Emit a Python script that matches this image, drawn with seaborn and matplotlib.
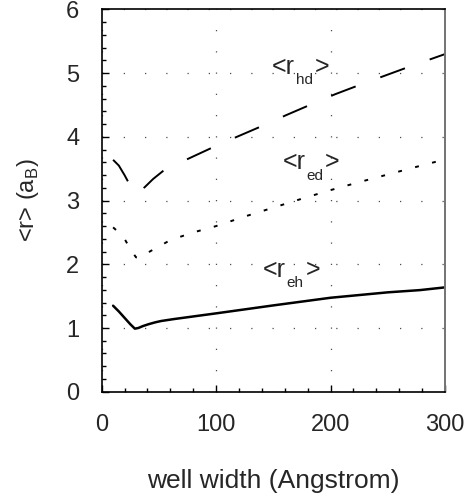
import numpy as np
import pandas as pd
import matplotlib
matplotlib.use("Agg")
import matplotlib.pyplot as plt
import seaborn as sns
from matplotlib.ticker import MultipleLocator

# well width (Angstrom) and mean distances <r> (a_B)
width_eh = [10, 15, 20, 25, 29, 32, 36, 41, 47, 52, 63, 100, 150, 200, 250, 278, 300]
r_eh = [1.35, 1.26, 1.16, 1.06, 0.99, 1.00, 1.03, 1.06, 1.09, 1.11, 1.14,
        1.23, 1.355, 1.475, 1.56, 1.595, 1.638]

width_ed = [10, 15, 20, 25, 30, 32, 40, 50, 60, 80, 100, 125, 150, 175, 200,
            225, 250, 275, 300]
r_ed = [2.58, 2.50, 2.40, 2.24, 2.11, 2.10, 2.18, 2.28, 2.38, 2.50, 2.60,
        2.75, 2.89, 3.03, 3.165, 3.29, 3.41, 3.53, 3.647]

width_hd = [10, 15, 20, 23, 27, 30, 33, 37, 45, 54, 65, 76, 97, 118, 140,
            161, 183, 204, 226, 248, 270, 300]
r_hd = [3.64, 3.55, 3.40, 3.30, 3.17, 3.10, 3.10, 3.20, 3.34, 3.47, 3.57,
        3.66, 3.835, 4.00, 4.17, 4.34, 4.51, 4.67, 4.82, 4.965, 5.11, 5.30]

sub_labels = ["hd", "ed", "eh"]

sns.set_style("white")
plt.rcParams["font.family"] = ["Liberation Sans", "DejaVu Sans"]
plt.rcParams["mathtext.fontset"] = "custom"
plt.rcParams["mathtext.rm"] = "Liberation Sans"

fig = plt.figure(figsize=(4.75, 4.99), dpi=100)
ax = fig.add_axes([0.214, 0.215, 0.723, 0.766])

sns.lineplot(x=width_hd, y=r_hd, ax=ax, color="black", lw=1.4,
             linestyle=(0, (13.5, 13.5)))
sns.lineplot(x=width_ed, y=r_ed, ax=ax, color="black", lw=1.4,
             linestyle=(0, (2, 7)))
sns.lineplot(x=width_eh, y=r_eh, ax=ax, color="black", lw=1.8)

ax.set_xlim(0, 300)
ax.set_ylim(0, 6)
ax.xaxis.set_major_locator(MultipleLocator(100))
ax.xaxis.set_minor_locator(MultipleLocator(20))
ax.yaxis.set_major_locator(MultipleLocator(1))
ax.yaxis.set_minor_locator(MultipleLocator(0.2))
ax.tick_params(which="both", direction="in", bottom=True, left=True,
               top=False, right=False, labelsize=17, pad=16, width=1.0,
               color="black")
ax.tick_params(which="major", length=5)
ax.tick_params(which="minor", length=3)

ax.grid(True, which="major", color="0.3", lw=0.9, linestyle=(0, (1, 16)))

for side in ["left", "bottom", "top"]:
    ax.spines[side].set_color("black")
    ax.spines[side].set_linewidth(1.2)
ax.spines["right"].set_color("0.45")
ax.spines["right"].set_linewidth(1.4)

ax.set_xlabel("well width (Angstrom)", fontsize=19, labelpad=24)
ax.set_ylabel(r"<r> (a$_{\mathregular{B}}$)", fontsize=17, labelpad=18)

# curve labels: <r_xx>
label_pos = [(159, 5.10), (168, 3.60), (151, 1.91)]
for sub, (lx, ly) in zip(sub_labels, label_pos):
    ax.text(lx, ly, "<r", fontsize=18, ha="center", va="center")
    ax.text(lx + 18, ly - 0.21, sub, fontsize=11, ha="center", va="center")
    ax.text(lx + 33.5, ly, ">", fontsize=18, ha="center", va="center")

fig.savefig("out.png", dpi=100)
